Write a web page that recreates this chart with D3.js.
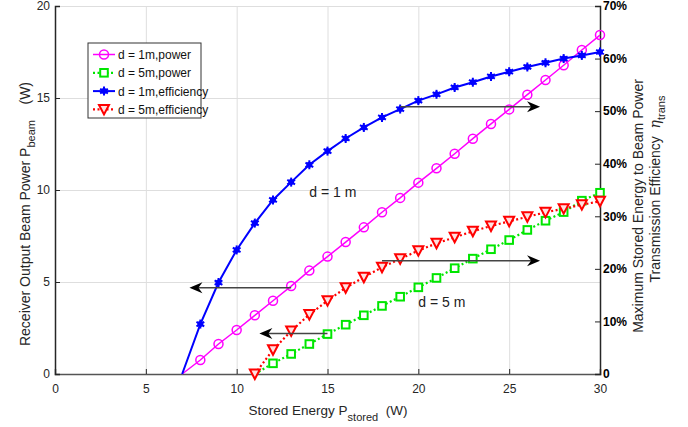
<!DOCTYPE html>
<html>
<head>
<meta charset="utf-8">
<script src="https://cdn.jsdelivr.net/npm/d3@7"></script>
<style>
  body { margin: 0; background: #fff; }
  svg { font-family: "Liberation Sans", Arial, sans-serif; }
</style>
</head>
<body>
<svg id="chart" width="688" height="427"></svg>
<script>
// stored energy (W) for d = 1 m and d = 5 m
const storedEnergy1m = [7, 8, 9, 10, 11, 12, 13, 14, 15, 16, 17, 18, 19, 20, 21, 22, 23, 24, 25, 26, 27, 28, 29, 30];
const storedEnergy5m = [11, 12, 13, 14, 15, 16, 17, 18, 19, 20, 21, 22, 23, 24, 25, 26, 27, 28, 29, 30];

// receiver output beam power (W), left axis
const power1m = [0, 0.76, 1.63, 2.39, 3.19, 3.98, 4.78, 5.62, 6.38, 7.17, 7.97, 8.79, 9.57, 10.40, 11.18, 11.97, 12.79, 13.59, 14.38, 15.18, 15.98, 16.78, 17.61, 18.42];
const power5m = [0, 0.58, 1.09, 1.63, 2.17, 2.68, 3.19, 3.70, 4.20, 4.71, 5.22, 5.75, 6.27, 6.78, 7.28, 7.83, 8.33, 8.80, 9.42, 9.85];

// transmission efficiency (%), right axis
const eff1m = [0, 9.5, 17.4, 23.6, 28.7, 33.1, 36.5, 39.8, 42.4, 44.8, 46.9, 48.8, 50.4, 52.0, 53.2, 54.5, 55.5, 56.6, 57.5, 58.4, 59.2, 60.0, 60.6, 61.25];
const eff5m = [0, 4.6, 8.2, 11.3, 13.95, 16.4, 18.4, 20.3, 21.9, 23.46, 24.86, 26.0, 27.14, 28.15, 29.04, 29.9, 30.75, 31.45, 32.2, 32.85];

const xTicks = [0, 5, 10, 15, 20, 25, 30];
const yLeftTicks = [0, 5, 10, 15, 20];
const yRightTicks = [0, 10, 20, 30, 40, 50, 60, 70];
const legendLabels = ["d = 1m,power", "d = 5m,power", "d = 1m,efficiency", "d = 5m,efficiency"];

// arrows (x from, x to, y on left axis) and text notes
const arrows = [
  {x1: 19, x2: 26.7, y: 14.53},
  {x1: 13, x2: 7.4, y: 4.69},
  {x1: 15, x2: 11.25, y: 2.2},
  {x1: 18, x2: 26.7, y: 6.16}
];
const notes = [
  {x: 14.0, y: 9.6, text: "d = 1 m"},
  {x: 20.0, y: 3.64, text: "d = 5 m"}
];

const svg = d3.select("#chart");
const L = 55, R = 600, T = 6, B = 374;

const x = d3.scaleLinear().domain([0, 30]).range([L, R]);
const yL = d3.scaleLinear().domain([0, 20]).range([B, T]);
const yR = d3.scaleLinear().domain([0, 70]).range([B, T]);

// grid
const grid = svg.append("g").attr("stroke", "#dedede").attr("stroke-width", 1);
grid.selectAll(".gx").data(xTicks.slice(1, -1)).enter().append("line")
  .attr("x1", d => x(d) + 0.5).attr("x2", d => x(d) + 0.5).attr("y1", T).attr("y2", B);
grid.selectAll(".gy").data(yLeftTicks.slice(1)).enter().append("line")
  .attr("x1", L).attr("x2", R).attr("y1", d => yL(d) + 0.5).attr("y2", d => yL(d) + 0.5);

// axes
const xAxis = svg.append("g").attr("transform", `translate(0,${B})`)
  .call(d3.axisBottom(x).tickValues(xTicks).tickSize(-5).tickPadding(10));
const yAxisL = svg.append("g").attr("transform", `translate(${L},0)`)
  .call(d3.axisLeft(yL).tickValues(yLeftTicks).tickSize(-5).tickPadding(5));
const yAxisR = svg.append("g").attr("transform", `translate(${R},0)`)
  .call(d3.axisRight(yR).tickValues(yRightTicks).tickSize(-5).tickPadding(3)
    .tickFormat(d => d === 0 ? "0" : d + "%"));

[xAxis, yAxisL, yAxisR].forEach(g => {
  g.selectAll("text").attr("font-size", 12).attr("fill", "#262626")
    .attr("font-family", "Liberation Sans, Arial, sans-serif");
  g.selectAll("path, line").attr("stroke", "#262626");
  g.select(".domain").attr("stroke-width", 1.5);
});
xAxis.select(".domain").attr("stroke", "#555");
yAxisR.selectAll("text").attr("fill", "#000").attr("font-weight", "bold");

// series
const series = [
  {xs: storedEnergy1m, ys: power1m, scale: yL, color: "#ff00ff", dash: null, width: 1.5, marker: "circle", start: 1},
  {xs: storedEnergy5m, ys: power5m, scale: yL, color: "#00e600", dash: "2,2.5", width: 2.2, marker: "square", start: 1},
  {xs: storedEnergy1m, ys: eff1m, scale: yR, color: "#0000ff", dash: null, width: 2, marker: "star", start: 1},
  {xs: storedEnergy5m, ys: eff5m, scale: yR, color: "#ff0000", dash: "2,2.5", width: 2.2, marker: "tri", start: 0}
];

function drawMarker(g, type, color) {
  if (type === "circle") {
    g.append("circle").attr("r", 4.5).attr("fill", "none").attr("stroke", color).attr("stroke-width", 1.5);
  } else if (type === "square") {
    g.append("rect").attr("x", -3.8).attr("y", -3.8).attr("width", 7.6).attr("height", 7.6)
      .attr("fill", "#fff").attr("stroke", color).attr("stroke-width", 2);
  } else if (type === "star") {
    g.append("circle").attr("r", 3).attr("fill", color);
    [0, 60, 120].forEach(a => {
      g.append("line").attr("x1", -4.5).attr("x2", 4.5).attr("y1", 0).attr("y2", 0)
        .attr("transform", `rotate(${a + 90})`).attr("stroke", color).attr("stroke-width", 2);
    });
  } else if (type === "tri") {
    g.append("path").attr("d", "M-5,-4.5L5,-4.5L0,5Z")
      .attr("fill", "#ffe0e0").attr("stroke", color).attr("stroke-width", 2);
  }
}

series.forEach(s => {
  const pts = s.xs.map((v, i) => [v, s.ys[i]]);
  const line = d3.line().x(d => x(d[0])).y(d => s.scale(d[1]));
  svg.append("path").datum(pts).attr("d", line)
    .attr("fill", "none").attr("stroke", s.color).attr("stroke-width", s.width)
    .attr("stroke-dasharray", s.dash);
  svg.append("g").selectAll("g").data(pts.slice(s.start)).enter().append("g")
    .attr("transform", d => `translate(${x(d[0])},${s.scale(d[1])})`)
    .each(function() { drawMarker(d3.select(this), s.marker, s.color); });
});

// arrows
arrows.forEach(a => {
  const dir = a.x2 > a.x1 ? 1 : -1;
  svg.append("line").attr("x1", x(a.x1)).attr("x2", x(a.x2) - dir * 8)
    .attr("y1", yL(a.y)).attr("y2", yL(a.y))
    .attr("stroke", "#444").attr("stroke-width", 1.5);
  svg.append("path").attr("d", "M0,0L-13,-5.5L-9,0L-13,5.5Z")
    .attr("transform", `translate(${x(a.x2)},${yL(a.y)}) scale(${dir},1)`)
    .attr("fill", "#000");
});

notes.forEach(n => {
  svg.append("text").attr("x", x(n.x)).attr("y", yL(n.y))
    .attr("font-size", 14).attr("fill", "#222").text(n.text);
});

// legend
const lg = svg.append("g").attr("transform", "translate(88,43)");
lg.append("rect").attr("width", 113).attr("height", 75)
  .attr("fill", "#fff").attr("stroke", "#333").attr("stroke-width", 1);
series.forEach((s, i) => {
  const yy = 11.5 + i * 18.3;
  lg.append("line").attr("x1", 5).attr("x2", 27).attr("y1", yy).attr("y2", yy)
    .attr("stroke", s.color).attr("stroke-width", s.width).attr("stroke-dasharray", s.dash);
  const m = lg.append("g").attr("transform", `translate(16,${yy})`);
  drawMarker(m, s.marker, s.color);
  lg.append("text").attr("x", 30).attr("y", yy + 4.5).attr("font-size", 12)
    .attr("fill", "#111").text(legendLabels[i]);
});

// axis titles
const xt = svg.append("text").attr("x", 328).attr("y", 415).attr("text-anchor", "middle")
  .attr("font-size", 13.5).attr("fill", "#262626");
xt.append("tspan").text("Stored Energy P");
xt.append("tspan").attr("font-size", 11).attr("dy", 6).text("stored");
xt.append("tspan").attr("dy", -6).attr("xml:space", "preserve").text("  (W)");

const ylt = svg.append("text").attr("transform", "translate(30,214) rotate(-90)")
  .attr("text-anchor", "middle").attr("font-size", 14).attr("fill", "#262626");
ylt.append("tspan").text("Receiver Output Beam Power P");
ylt.append("tspan").attr("font-size", 11).attr("dy", 5).text("beam");
ylt.append("tspan").attr("dy", -5).attr("xml:space", "preserve").text("    (W)");

const yrt = svg.append("text").attr("transform", "translate(643,206) rotate(-90)")
  .attr("text-anchor", "middle").attr("font-size", 14).attr("fill", "#262626");
yrt.append("tspan").text("Maximum Stored Energy to Beam Power");
const yrt2 = svg.append("text").attr("transform", "translate(660,189) rotate(-90)")
  .attr("text-anchor", "middle").attr("font-size", 14).attr("fill", "#262626");
yrt2.append("tspan").attr("xml:space", "preserve").text("Transmission Efficiency  ");
yrt2.append("tspan").attr("font-style", "italic").attr("font-family", "DejaVu Serif, serif").text("η");
yrt2.append("tspan").attr("font-size", 11).attr("dy", 5).text("trans");
</script>
</body>
</html>
